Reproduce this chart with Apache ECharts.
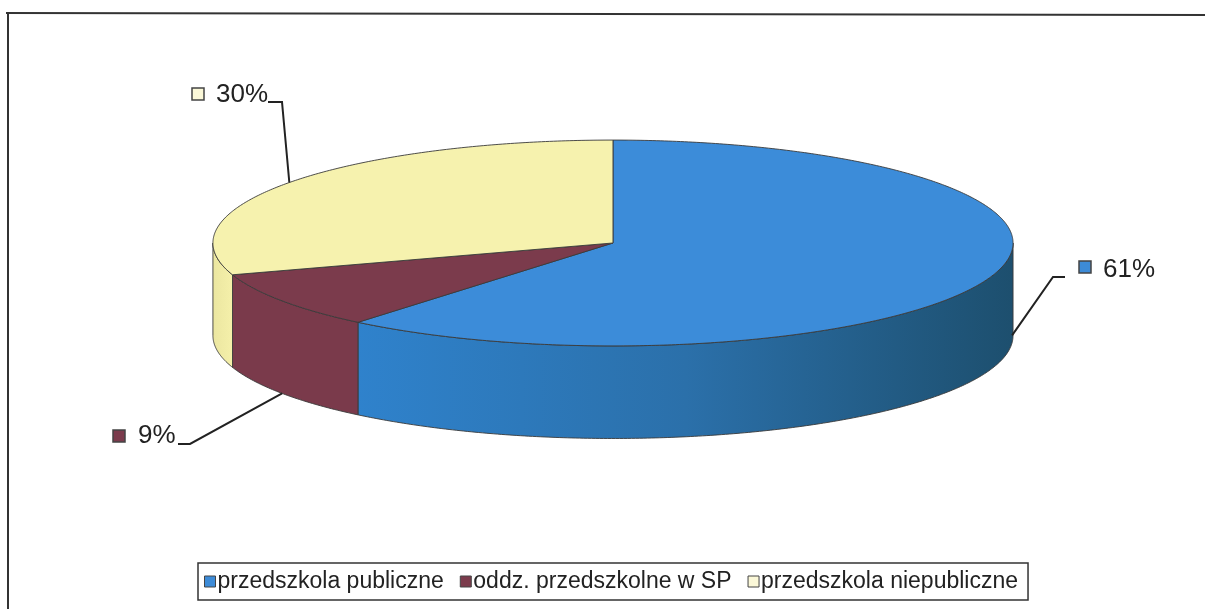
<!DOCTYPE html>
<html><head><meta charset="utf-8">
<script src="https://cdn.jsdelivr.net/npm/echarts@6/dist/echarts.min.js"></script>
<style>html,body{margin:0;padding:0;background:#fff}#c{width:1205px;height:609px}</style>
</head><body><div id="c"></div>
<script>
// ---- data ----
const categories = ['przedszkola publiczne', 'oddz. przedszkolne w SP', 'przedszkola niepubliczne'];
const shares = [61, 9, 30];
const valueLabels = ['61%', '9%', '30%'];

// ---- styles / layout ----
const topColors = ['#3c8cd9', '#7b3b4c', '#f6f2ae'];
const legendColors = ['#3d8bd7', '#7b3b4c', '#fbf8d8'];
const sideFills = [
  {type:'linear', x:0, y:0, x2:1, y2:0, colorStops:[{offset:0,color:'#2f82cc'},{offset:0.5,color:'#2b70aa'},{offset:1,color:'#1d4f6e'}]},
  '#7a3a4b',
  {type:'linear', x:0, y:0, x2:1, y2:0, colorStops:[{offset:0,color:'#ebe6a0'},{offset:1,color:'#f5f0aa'}]}
];
// label layout: text left/center, marker center, elbow points, anchor (fraction along slice, depth fraction)
const labelLayout = [
  {text:[1103,270], marker:[1085,267], elbow:[[1065,277],[1053,277]], anchor:[0.428,0.92]},
  {text:[138,436],  marker:[119,436],  elbow:[[178,444],[190,444]],   anchor:[0.5,1.0]},
  {text:[216,95],   marker:[198,94],   elbow:[[268,102],[282,102]],   anchor:[0.5,0.0]}
];

function makeRender(i) {
  return function (params, api) {
    const W = api.getWidth(), H = api.getHeight();
    const cx = W * 0.5087, cy = H * 0.399, rx = W * 0.332, ry = H * 0.169, depth = H * 0.152;
    const total = shares.reduce((a, b) => a + b, 0);
    let before = 0;
    for (let k = 0; k < i; k++) before += shares[k];
    const a0 = before / total * 2 * Math.PI;
    const a1 = (before + api.value(0)) / total * 2 * Math.PI;
    const P = (t, dz) => [cx + rx * Math.sin(t), cy - ry * Math.cos(t) + dz];
    const arc = (s, e, dz) => {
      const n = Math.max(2, Math.ceil((e - s) / 0.01));
      const pts = [];
      for (let j = 0; j <= n; j++) pts.push(P(s + (e - s) * j / n, dz));
      return pts;
    };
    const children = [];
    const s = Math.max(a0, Math.PI / 2), e = Math.min(a1, 3 * Math.PI / 2);
    if (e > s) {
      const pts = arc(s, e, 0).concat(arc(s, e, depth).reverse());
      children.push({type:'polygon', shape:{points:pts}, z2:1,
        style:{fill:sideFills[i], stroke:'#3a3a3a', lineWidth:0.9}});
    }
    children.push({type:'polygon', shape:{points:[[cx, cy]].concat(arc(a0, a1, 0))}, z2:10,
      style:{fill:topColors[i], stroke:'#3a3a3a', lineWidth:0.9}});
    // label
    const L = labelLayout[i];
    const anchor = P(a0 + (a1 - a0) * L.anchor[0], depth * L.anchor[1]);
    children.push({type:'polyline', shape:{points:[L.elbow[0], L.elbow[1], anchor]}, z2:20,
      style:{fill:null, stroke:'#222', lineWidth:2}});
    children.push({type:'rect', shape:{x:L.marker[0]-6, y:L.marker[1]-6, width:12, height:12}, z2:20,
      style:{fill:legendColors[i], stroke:'#444', lineWidth:1.5}});
    children.push({type:'text', x:L.text[0], y:L.text[1], z2:20,
      style:{text:valueLabels[i], fill:'#222', font:'26px "Liberation Sans", Arial, sans-serif', verticalAlign:'middle'}});
    return {type:'group', children};
  };
}

const chart = echarts.init(document.getElementById('c'), null, {renderer:'canvas'});
chart.setOption({
  animation:false,
  backgroundColor:'#fff',
  legend:{
    data:categories, left:198, top:563, orient:'horizontal',
    icon:'rect', itemWidth:11, itemHeight:11, itemGap:16,
    padding:[7,10,7,6], borderColor:'#333', borderWidth:1.5,
    itemStyle:{borderColor:'#444', borderWidth:1},
    textStyle:{fontFamily:'"Liberation Sans", Arial, sans-serif', fontSize:23, color:'#222', padding:[0,0,0,-3]}
  },
  graphic:[
    {type:'line', shape:{x1:6, y1:13, x2:1205, y2:15}, style:{stroke:'#333', lineWidth:2}},
    {type:'line', shape:{x1:8, y1:13, x2:8, y2:609}, style:{stroke:'#333', lineWidth:2}}
  ],
  series: categories.map((name, i) => ({
    type:'custom', name, coordinateSystem:'none',
    itemStyle:{color:legendColors[i]},
    data:[[shares[i]]],
    renderItem:makeRender(i)
  }))
});
</script>
</body></html>
